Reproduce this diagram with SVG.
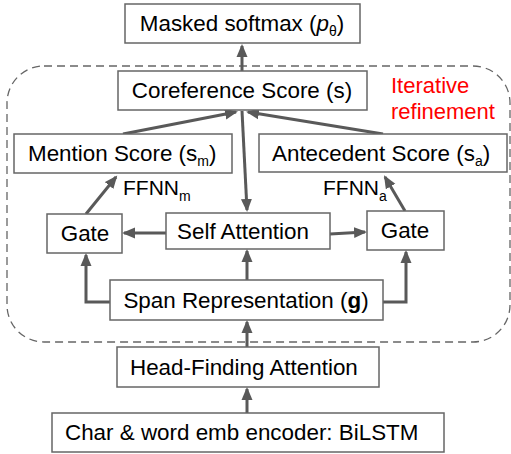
<svg xmlns="http://www.w3.org/2000/svg" width="511" height="454" viewBox="0 0 511 454">
  <style>
    .box { fill: #ffffff; stroke: #666666; stroke-width: 1.5; }
    .lbl { font-family: "Liberation Sans", Arial, sans-serif; font-size: 22.4px; fill: #000000; }
    .ffnn { font-size: 21px; }
    .sub { font-size: 14px; }
    .edge { fill: none; stroke: #595959; stroke-width: 3; marker-end: url(#head); }
    .note { font-family: "Liberation Sans", Arial, sans-serif; font-size: 22px; fill: #ff0000; }
  </style>
  <defs>
    <marker id="head" markerUnits="userSpaceOnUse" markerWidth="14" markerHeight="12" refX="11" refY="6" orient="auto">
      <path d="M0,0.5 L13,6 L0,11.5 Z" fill="#595959"/>
    </marker>
  </defs>

  <!-- refinement loop boundary -->
  <rect x="7" y="66" width="503" height="276" rx="37" ry="37" fill="none" stroke="#666666" stroke-width="1.3" stroke-dasharray="8 5"/>
  <text class="note" x="391" y="93">Iterative</text>
  <text class="note" x="391" y="119">refinement</text>

  <g id="connectors">
    <path class="edge" d="M242,71 L242,46"/>
    <path class="edge" d="M123,134 L236,112"/>
    <path class="edge" d="M383,134 L248,112"/>
    <path class="edge" d="M242,111 L247,210"/>
    <path class="edge" d="M86,214 L116,177"/>
    <path class="edge" d="M405,211 L385,177"/>
    <path class="edge" d="M166,233 L124,233"/>
    <path class="edge" d="M330,234 L365,232"/>
    <path class="edge" d="M247,280 L247,251"/>
    <path class="edge" d="M110,302 L86,302 L86,255"/>
    <path class="edge" d="M383,302 L406,302 L406,252"/>
    <path class="edge" d="M247,347 L247,322"/>
    <path class="edge" d="M247,413 L247,389"/>
  </g>

  <g id="masked-softmax">
    <rect class="box" x="125" y="4" width="235" height="39"/>
    <text class="lbl" x="242" y="31" text-anchor="middle" font-size="22">Masked softmax (<tspan font-style="italic">p</tspan><tspan class="sub" dy="5">θ</tspan><tspan dy="-5">)</tspan></text>
  </g>

  <g id="coreference-score">
    <rect class="box" x="118" y="71" width="249" height="39"/>
    <text class="lbl" x="242" y="98" text-anchor="middle">Coreference Score (s)</text>
  </g>

  <g id="mention-score">
    <rect class="box" x="14" y="134" width="218" height="39"/>
    <text class="lbl" x="28" y="161">Mention Score (s<tspan class="sub" dy="5">m</tspan><tspan dy="-5">)</tspan></text>
  </g>

  <g id="antecedent-score">
    <rect class="box" x="259" y="134" width="248" height="38"/>
    <text class="lbl" x="272" y="161">Antecedent Score (s<tspan class="sub" dy="5">a</tspan><tspan dy="-5">)</tspan></text>
  </g>

  <text class="lbl ffnn" x="123" y="195">FFNN<tspan class="sub" dy="6">m</tspan></text>
  <text class="lbl ffnn" x="323" y="195">FFNN<tspan class="sub" dy="6">a</tspan></text>

  <g id="gate-left">
    <rect class="box" x="47" y="214" width="75" height="39"/>
    <text class="lbl" x="85" y="241" text-anchor="middle">Gate</text>
  </g>

  <g id="self-attention">
    <rect class="box" x="166" y="213" width="164" height="36"/>
    <text class="lbl" x="243" y="238.5" text-anchor="middle">Self Attention</text>
  </g>

  <g id="gate-right">
    <rect class="box" x="367" y="211" width="77" height="39"/>
    <text class="lbl" x="405" y="238" text-anchor="middle">Gate</text>
  </g>

  <g id="span-representation">
    <rect class="box" x="110" y="280" width="273" height="40"/>
    <text class="lbl" x="246" y="307.5" text-anchor="middle">Span Representation (<tspan font-weight="bold">g</tspan>)</text>
  </g>

  <g id="head-finding-attention">
    <rect class="box" x="117" y="347" width="262" height="40"/>
    <text class="lbl" x="130" y="374.5">Head-Finding Attention</text>
  </g>

  <g id="bilstm-encoder">
    <rect class="box" x="52" y="413" width="392" height="39"/>
    <text class="lbl" x="65" y="440">Char &amp; word emb encoder: BiLSTM</text>
  </g>
</svg>
